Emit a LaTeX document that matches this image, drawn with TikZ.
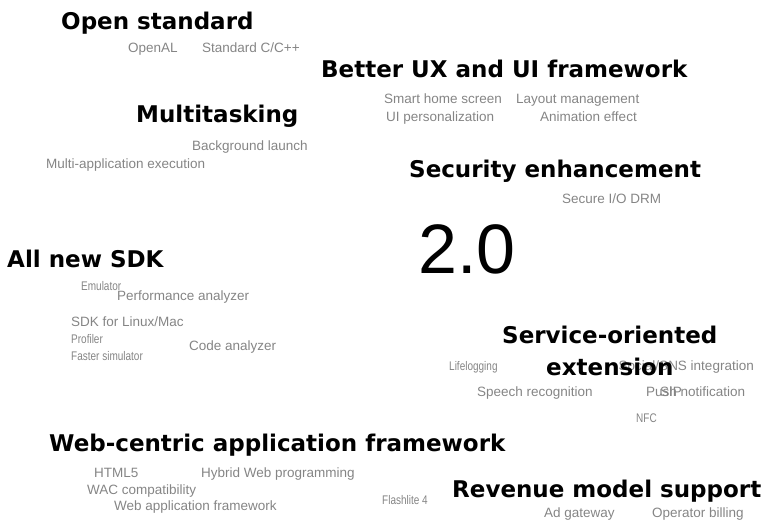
\documentclass[tikz,border=0pt]{standalone}
\usepackage{fontspec}
\setmainfont{Liberation Sans}
\newfontfamily\headfam{DejaVu Sans}
\newfontfamily\condfam{Liberation Sans}[FakeStretch=0.8]
\usepackage{tikz}
\usetikzlibrary{positioning,calc}

\begin{document}
\begin{tikzpicture}[
	x=1pt, y=-1pt,
	item/.style = {anchor=base west, inner sep=0pt, text=black!48,
		font=\fontsize{13.5}{16}\selectfont},
	itemsm/.style = {item, font=\condfam\fontsize{12.5}{15}\selectfont},
	topic/.style = {anchor=base west, inner sep=0pt, text=black,
		font=\headfam\bfseries\fontsize{23}{27}\selectfont},
	]
	\useasboundingbox (0,0) rectangle (769,525);

	% feature words first, so the topics sit on top
	\begin{scope}[every node/.append style={item}]
	\node (openal)   at (128,52)  {OpenAL};
	\node (stdc)     at (202,52)  {Standard C/C++};

	\node (home)     at (384,103) {Smart home screen};
	\node (layout)   at (516,103) {Layout management};
	\node (uiper)    at (386,121) {UI personalization};
	\node (anim)     at (540,121) {Animation effect};

	\node (bglaunch) at (192,150) {Background launch};
	\node (multiapp) at (46,168)  {Multi-application execution};

	\node (secio)    at (562,203) {Secure I/O DRM};

	\node[itemsm] (emul) at (81,290) {Emulator};
	\node (perf)     at (117,300) {Performance analyzer};
	\node (sdklin)   at (71,326)  {SDK for Linux/Mac};
	\node[itemsm] (prof) at (71,343) {Profiler};
	\node (code)     at (189,350) {Code analyzer};
	\node[itemsm] (fast) at (71,360) {Faster simulator};

	\node[itemsm] (lifelog) at (449,370) {Lifelogging};
	\node[anchor=base east] (sns) at (754,370) {Social/SNS integration};
	\node (speech)   at (477,396) {Speech recognition};
	\node (push)     at (646,396) {Push notification};
	\node (sip)      at (660,396) {SIP};
	\node[itemsm] (nfc) at (636,422) {NFC};

	\node (html)     at (94,477)  {HTML5};
	\node (hybrid)   at (201,477) {Hybrid Web programming};
	\node (wac)      at (87,494)  {WAC compatibility};
	\node[itemsm] (flash) at (382,504) {Flashlite 4};
	\node (webapp)   at (114,510) {Web application framework};

	\node (adgw)     at (544,517) {Ad gateway};
	\node (billing)  at (652,517) {Operator billing};
	\end{scope}

	% topics
	\begin{scope}[every node/.append style={topic}]
	\node (open)  at (61,29)   {Open standard};
	\node (ux)    at (321,77)  {Better UX and UI framework};
	\node (multi) at (136,122) {Multitasking};
	\node (sec)   at (409,177) {Security enhancement};
	\node (sdk)   at (7,267)   {All new SDK};
	\node (svc)   at (502,343) {Service-oriented};
	\node[anchor=base] (svcb) at ([yshift=-32pt]svc.base) {extension};
	\node (web)   at (49,451)  {Web-centric application framework};
	\node (rev)   at (452,497) {Revenue model support};
	\end{scope}

	\node[anchor=base, inner sep=0pt, font=\fontsize{70}{80}\selectfont] (ver) at (467,273) {2.0};
\end{tikzpicture}
\end{document}
